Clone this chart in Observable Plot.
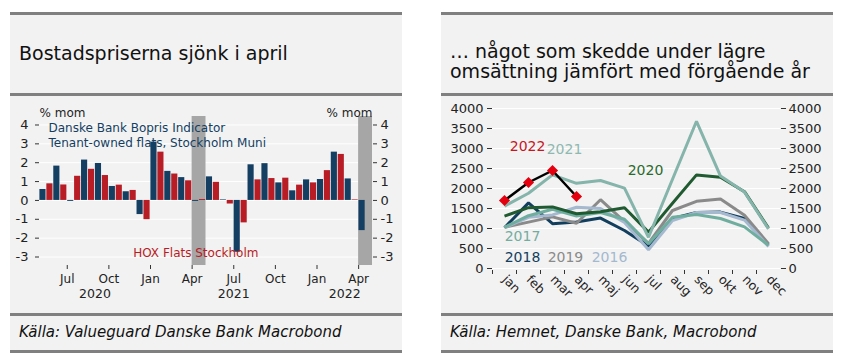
<!DOCTYPE html>
<html><head><meta charset="utf-8">
<script src="https://cdn.jsdelivr.net/npm/d3@7"></script>
<script src="https://cdn.jsdelivr.net/npm/@observablehq/plot@0.6"></script>
<style>
body{margin:0;background:#fff;width:843px;height:363px;position:relative;overflow:hidden;font-family:"DejaVu Sans",sans-serif;}
.panel{position:absolute;top:12px;width:392px;height:341px;background:#f2f2f2;}
.rule{position:absolute;left:0;width:100%;height:3px;background:#808080;}
.title{position:absolute;left:9px;font-size:19px;line-height:20px;color:#111;white-space:nowrap;}
.caption{position:absolute;left:9px;top:313px;font-size:15px;line-height:15px;font-style:italic;color:#111;white-space:nowrap;}
.chart{position:absolute;left:0;top:84px;}
</style></head>
<body>
<div class="panel" id="p1" style="left:10px">
  <div class="rule" style="top:0"></div>
  <div class="title" style="top:30.5px">Bostadspriserna sjönk i april</div>
  <div class="rule" style="top:81px"></div>
  <div class="chart" id="c1"></div>
  <div class="rule" style="top:301px"></div>
  <div class="caption">Källa: Valueguard Danske Bank Macrobond</div>
  <div class="rule" style="top:338px"></div>
</div>
<div class="panel" id="p2" style="left:441px">
  <div class="rule" style="top:0"></div>
  <div class="title" style="top:28.5px">… något som skedde under lägre<br>omsättning jämfört med förgående år</div>
  <div class="rule" style="top:81px"></div>
  <div class="chart" id="c2"></div>
  <div class="rule" style="top:301px"></div>
  <div class="caption">Källa: Hemnet, Danske Bank, Macrobond</div>
  <div class="rule" style="top:338px"></div>
</div>
<script>
// ---------- Left chart data (monthly % mom, May 2020 – Apr 2022) ----------
const months = ["2020-05","2020-06","2020-07","2020-08","2020-09","2020-10","2020-11","2020-12",
  "2021-01","2021-02","2021-03","2021-04","2021-05","2021-06","2021-07","2021-08","2021-09","2021-10","2021-11","2021-12",
  "2022-01","2022-02","2022-03","2022-04"];
const bopris = [0.58, 1.82, -0.05, 2.14, 1.96, 0.74, 0.46, -0.75, 3.09, 1.54, 1.21, -0.05,
  1.25, 0.03, -2.75, 1.89, 1.95, 0.93, 0.51, 1.09, 1.11, 2.56, 1.14, -1.60];
const hox = [0.88, 0.82, 1.28, 1.65, 1.32, 0.81, 0.53, -1.02, 2.56, 1.40, 1.04, 0.05,
  0.96, -0.19, -1.19, 1.09, 1.16, 1.18, 0.81, 0.93, 1.58, 2.44, 0.03, null];
const shadedMonths = ["2021-04","2022-04"];
const xTickMonths = ["2020-07","2020-10","2021-01","2021-04","2021-07","2021-10","2022-01","2022-04"];
const xTickLabels = ["Jul","Oct","Jan","Apr","Jul","Oct","Jan","Apr"];
const years = ["2020","2021","2022"];
const leftTicks = [-3,-2,-1,0,1,2,3,4];
const seriesNames = ["Danske Bank Bopris Indicator","Tenant-owned flats, Stockholm Muni","HOX Flats Stockholm"];

// ---------- Right chart data (monthly volume) ----------
const monthLabels = ["jan","feb","mar","apr","maj","jun","jul","aug","sep","okt","nov","dec"];
const y2016 = [1020, 1280, 1340, 1530, 1500, 1150, 470, 1200, 1400, 1400, 1210, 550];
const y2017 = [1030, 1320, 1480, 1310, 1400, 1230, 620, 1280, 1350, 1250, 1040, 580];
const y2018 = [1020, 1640, 1120, 1160, 1260, 950, 560, 1250, 1400, 1410, 1250, 590];
const y2019 = [1030, 1160, 1290, 1130, 1720, 1170, 630, 1450, 1680, 1740, 1330, 620];
const y2020 = [1310, 1520, 1540, 1370, 1420, 1520, 910, 1630, 2340, 2280, 1920, 1010];
const y2021 = [1560, 1880, 2340, 2130, 2200, 2010, 780, 2230, 3680, 2310, 1910, 990];
const y2022 = [1700, 2150, 2450, 1800];
const rightTicks = [0,500,1000,1500,2000,2500,3000,3500,4000];

// ---------- styles ----------
const blue = "#143f63", red = "#b81c25";
const font = {background:"transparent", fontFamily:"DejaVu Sans", fontSize:"13px", color:"#222", overflow:"visible"};

// ---------- Left chart ----------
const mi = m => months.indexOf(m);
const bars = [];
months.forEach((m, i) => {
  bars.push({i, s: 0, v: bopris[i]});
  if (hox[i] != null) bars.push({i, s: 1, v: hox[i]});
});
const yearSpan = years.map(y => {
  const idx = months.map((m, i) => m.startsWith(y) ? i : -1).filter(i => i >= 0);
  return {y, c: (idx[0] + idx[idx.length - 1] + 1) / 2};
});
const yLo = -3.45, yHi = 4.45;
const left = Plot.plot({
  width: 392, height: 217, marginLeft: 29, marginRight: 30, marginTop: 20, marginBottom: 48,
  style: font,
  x: {type: "linear", domain: [0, months.length]},
  y: {domain: [yLo, yHi]},
  marks: [
    Plot.gridY(leftTicks, {stroke: "#fff", strokeOpacity: 1, strokeWidth: 1}),
    Plot.rect(shadedMonths, {x1: d => mi(d), x2: d => mi(d) + 1, y1: yLo, y2: yHi, fill: "#a6a6a6"}),
    Plot.rect(bars, {x1: d => d.i + d.s * 0.5, x2: d => d.i + d.s * 0.5 + 0.5, y1: 0, y2: "v",
      fill: d => d.s ? red : blue, insetLeft: 0.4, insetRight: 0.4}),
    Plot.axisY(leftTicks, {anchor: "left", tickSize: 4, tickPadding: 7, label: null, tickFormat: d => String(d), stroke: "#333"}),
    Plot.axisY(leftTicks, {anchor: "right", tickSize: 4, tickPadding: 4, label: null, tickFormat: d => String(d), stroke: "#333"}),
    Plot.axisX(xTickMonths.map(mi), {anchor: "bottom", tickSize: 4, tickPadding: 5, label: null, fontSize: 12,
      tickFormat: (d, i) => xTickLabels[i], stroke: "#333"}),
    Plot.text(yearSpan, {x: "c", text: "y", frameAnchor: "bottom", dy: 32, fontSize: 12.5, fill: "#222"}),
    Plot.text(["% mom"], {frameAnchor: "top-left", dy: -8, textAnchor: "start", fontSize: 12, fill: "#222"}),
    Plot.text(["% mom"], {frameAnchor: "top-right", dy: -8, textAnchor: "end", fontSize: 12, fill: "#222"}),
    Plot.text([seriesNames[0]], {x: 0.65, y: 3.82, textAnchor: "start", fontSize: 12, fill: blue}),
    Plot.text([seriesNames[1]], {x: 0.65, y: 3.02, textAnchor: "start", fontSize: 12, fill: blue}),
    Plot.text([seriesNames[2]], {x: 6.75, y: -2.81, textAnchor: "start", fontSize: 12, fill: red})
  ]
});
document.getElementById("c1").appendChild(left);

// ---------- Right chart ----------
const seriesDefs = [
  {name: "2018", vals: y2018, color: "#123f5e"},
  {name: "2019", vals: y2019, color: "#8a8a8a"},
  {name: "2016", vals: y2016, color: "#a4b8cf"},
  {name: "2017", vals: y2017, color: "#6fae9f"},
  {name: "2020", vals: y2020, color: "#1f5a30"},
  {name: "2021", vals: y2021, color: "#84b4aa"}
];
const lineMarks = seriesDefs.map(s => Plot.line(s.vals.map((v, i) => ({m: i + 1, v})),
  {x: "m", y: "v", stroke: s.color, strokeWidth: 3, strokeLinejoin: "miter", strokeLinecap: "butt"}));
const d2022 = y2022.map((v, i) => ({m: i + 1, v}));
const right = Plot.plot({
  width: 392, height: 217, marginLeft: 51, marginRight: 53, marginTop: 12, marginBottom: 45,
  style: font,
  x: {type: "linear", domain: [0.5, 12.5]},
  y: {domain: [0, 4000]},
  marks: [
    Plot.gridY(rightTicks, {stroke: "#fff", strokeOpacity: 1, strokeWidth: 1}),
    Plot.axisY(rightTicks, {anchor: "left", tickSize: 5, tickPadding: 4, label: null, tickFormat: d => String(d), stroke: "#333"}),
    Plot.axisY(rightTicks, {anchor: "right", tickSize: 5, tickPadding: 3, label: null, tickFormat: d => String(d), stroke: "#333"}),
    Plot.axisX(d3.range(0.5, 12, 1), {anchor: "bottom", tickSize: 4, tickFormat: () => "", label: null, stroke: "#333", dy: 2}),
    Plot.axisX(d3.range(1, 13), {anchor: "bottom", tickSize: 0, tickPadding: 9, tickRotate: 45, label: null, fontSize: 12.5,
      tickFormat: d => monthLabels[d - 1], fill: "#222"}),
    ...lineMarks,
    Plot.line(d2022, {x: "m", y: "v", stroke: "#000", strokeWidth: 2.5}),
    Plot.dot(d2022, {x: "m", y: "v", symbol: "diamond2", r: 5, fill: "#e4000f", stroke: "none"}),
    Plot.text(["2022"], {x: 1.96, y: 3050, fontSize: 14, fill: "#c8161e"}),
    Plot.text(["2021"], {x: 3.5, y: 2975, fontSize: 14, fill: "#8fb8b0"}),
    Plot.text(["2020"], {x: 6.875, y: 2450, fontSize: 14, fill: "#2a6a2c"}),
    Plot.text(["2017"], {x: 1.75, y: 800, fontSize: 14, fill: "#72ad9f"}),
    Plot.text(["2018"], {x: 1.75, y: 275, fontSize: 14, fill: "#123f5e"}),
    Plot.text(["2019"], {x: 3.54, y: 275, fontSize: 14, fill: "#8a8a8a"}),
    Plot.text(["2016"], {x: 5.375, y: 275, fontSize: 14, fill: "#a4b8cf"})
  ]
});
document.getElementById("c2").appendChild(right);
</script>
</body></html>
